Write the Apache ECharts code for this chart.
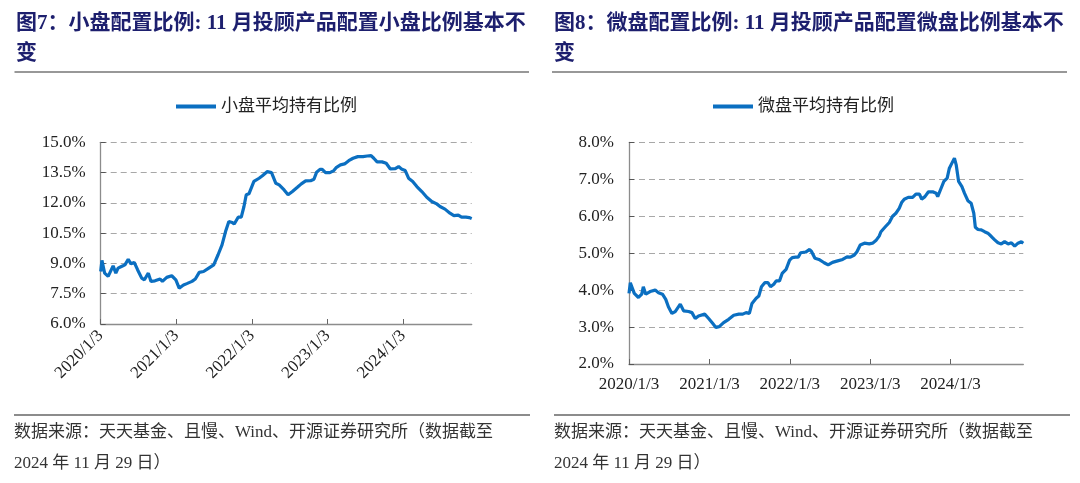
<!DOCTYPE html>
<html>
<head>
<meta charset="utf-8">
<script src="https://cdn.jsdelivr.net/npm/echarts@6/dist/echarts.min.js"></script>
<style>
html,body{margin:0;padding:0;background:#fff;}
#main{width:1080px;height:483px;}
</style>
</head>
<body>
<div id="main"></div>
<script>
// ---- Data: 小盘平均持有比例 (%) ----
var smallDates = ['2020-01-03','2020-01-09','2020-01-22','2020-02-08','2020-03-03','2020-03-16','2020-03-27','2020-04-12','2020-04-29','2020-05-15','2020-05-28','2020-06-13','2020-06-29','2020-07-19','2020-08-01','2020-08-20','2020-09-02','2020-09-21','2020-10-16','2020-10-27','2020-11-17','2020-12-11','2020-12-31','2021-01-16','2021-02-06','2021-02-22','2021-03-19','2021-04-04','2021-04-23','2021-05-14','2021-06-08','2021-07-02','2021-07-23','2021-08-11','2021-08-28','2021-09-13','2021-09-29','2021-10-09','2021-10-28','2021-11-12','2021-11-25','2021-12-06','2021-12-19','2022-01-12','2022-02-06','2022-02-22','2022-03-18','2022-04-07','2022-04-28','2022-05-14','2022-06-07','2022-06-26','2022-07-17','2022-08-10','2022-08-29','2022-09-19','2022-10-13','2022-10-29','2022-11-11','2022-11-27','2022-12-08','2022-12-24','2023-01-14','2023-02-02','2023-02-15','2023-03-06','2023-03-26','2023-04-15','2023-05-06','2023-05-29','2023-06-23','2023-07-13','2023-08-01','2023-08-14','2023-08-30','2023-09-23','2023-10-13','2023-11-02','2023-11-26','2023-12-12','2023-12-28','2024-01-13','2024-01-29','2024-02-18','2024-03-09','2024-04-02','2024-04-26','2024-05-20','2024-06-13','2024-06-29','2024-07-23','2024-08-16','2024-09-04','2024-09-25','2024-10-11','2024-11-01','2024-11-17','2024-11-29'];
var smallValues = [8.6,9.15,8.52,8.36,8.88,8.52,8.77,8.85,8.93,9.21,8.98,9.05,8.69,8.27,8.19,8.52,8.11,8.14,8.23,8.11,8.31,8.39,8.19,7.78,7.93,8.0,8.11,8.23,8.56,8.6,8.77,8.93,9.43,9.92,10.58,11.08,11.03,10.95,11.29,11.29,11.82,12.4,12.45,13.06,13.22,13.34,13.55,13.5,12.97,12.89,12.64,12.4,12.56,12.77,12.94,13.09,13.1,13.17,13.52,13.66,13.66,13.5,13.5,13.6,13.76,13.88,13.93,14.09,14.21,14.29,14.29,14.32,14.34,14.21,14.03,14.03,13.96,13.68,13.7,13.8,13.66,13.6,13.22,13.06,12.81,12.56,12.28,12.07,11.95,11.82,11.69,11.49,11.37,11.39,11.29,11.29,11.27,11.22];

// ---- Data: 微盘平均持有比例 (%) ----
var microDates = ['2020-01-03','2020-01-09','2020-01-18','2020-01-27','2020-02-15','2020-03-01','2020-03-08','2020-03-19','2020-04-08','2020-05-01','2020-05-16','2020-06-03','2020-06-18','2020-06-30','2020-07-16','2020-07-31','2020-08-23','2020-09-07','2020-09-30','2020-10-15','2020-10-30','2020-11-14','2020-12-12','2020-12-30','2021-01-17','2021-02-01','2021-02-16','2021-03-08','2021-03-31','2021-04-23','2021-05-16','2021-06-03','2021-06-18','2021-07-03','2021-07-15','2021-08-03','2021-08-15','2021-08-27','2021-09-11','2021-09-26','2021-10-07','2021-10-22','2021-11-02','2021-11-17','2021-11-29','2021-12-17','2022-01-02','2022-01-14','2022-01-29','2022-02-10','2022-02-21','2022-03-16','2022-04-03','2022-04-12','2022-04-27','2022-05-15','2022-05-24','2022-06-08','2022-06-26','2022-07-16','2022-08-08','2022-08-31','2022-09-20','2022-10-05','2022-10-23','2022-11-04','2022-11-19','2022-12-08','2022-12-30','2023-01-14','2023-01-29','2023-02-13','2023-02-21','2023-03-11','2023-03-31','2023-04-15','2023-04-30','2023-05-15','2023-05-26','2023-06-07','2023-06-25','2023-07-15','2023-07-30','2023-08-15','2023-08-25','2023-09-09','2023-09-25','2023-10-14','2023-10-30','2023-11-06','2023-11-21','2023-12-04','2023-12-19','2023-12-29','2024-01-09','2024-01-21','2024-01-29','2024-02-09','2024-02-24','2024-03-07','2024-03-22','2024-04-06','2024-04-18','2024-04-25','2024-05-07','2024-05-22','2024-06-06','2024-06-21','2024-07-07','2024-07-22','2024-08-06','2024-08-21','2024-09-05','2024-09-21','2024-10-06','2024-10-21','2024-11-05','2024-11-20','2024-11-29'];
var microValues = [3.91,4.2,4.18,3.91,3.8,3.89,4.09,3.89,3.96,4.0,3.93,3.89,3.75,3.55,3.37,3.42,3.62,3.44,3.42,3.39,3.23,3.3,3.35,3.23,3.1,2.99,3.01,3.12,3.21,3.32,3.35,3.35,3.39,3.37,3.64,3.78,3.84,4.09,4.2,4.2,4.09,4.16,4.25,4.25,4.45,4.56,4.81,4.88,4.89,4.89,5.01,5.03,5.1,5.04,4.86,4.83,4.81,4.74,4.68,4.75,4.79,4.83,4.9,4.89,4.95,5.04,5.22,5.27,5.25,5.27,5.34,5.46,5.58,5.7,5.83,6.0,6.08,6.21,6.37,6.46,6.51,6.51,6.6,6.6,6.46,6.53,6.66,6.66,6.62,6.53,6.75,6.94,7.03,7.3,7.43,7.57,7.39,6.94,6.8,6.62,6.42,6.35,6.08,5.7,5.64,5.63,5.58,5.54,5.45,5.36,5.28,5.25,5.31,5.25,5.28,5.19,5.27,5.31,5.27];

// ---- Axis tick labels ----
var smallYTicks = { min: 6, max: 15, interval: 1.5 };
var microYTicks = { min: 2, max: 8, interval: 1 };
var xTickLabels = ['2020/1/3','2021/1/3','2022/1/3','2023/1/3','2024/1/3'];
var startDate = '2020-01-03';
var endDate = '2024-11-29';

// ---- Build calendar-day category axis ----
function keyOf(s) {
  var p = s.split('-');
  return (+p[0]) + '/' + (+p[1]) + '/' + (+p[2]);
}
function toUTC(s) { var p = s.split('-'); return Date.UTC(+p[0], +p[1]-1, +p[2]); }
var days = [];
var idx = {};
for (var t = toUTC(startDate); t <= toUTC(endDate); t += 86400000) {
  var d = new Date(t);
  var k = d.getUTCFullYear() + '/' + (d.getUTCMonth()+1) + '/' + d.getUTCDate();
  idx[k] = days.length;
  days.push(k);
}
function build(dates, vals) {
  return dates.map(function (s, i) { return [idx[keyOf(s)], vals[i]]; });
}
function isTick(i, v) { return xTickLabels.indexOf(v) >= 0; }

var serif = '"Liberation Serif","Times New Roman","Noto Sans CJK SC",serif';
var cjk = '"Liberation Serif","Noto Sans CJK SC",sans-serif';
var lineBlue = '#0b6fc1';
var axisGray = '#8c8c8c';
var gridGray = '#a8a8a8';

function xAxisOpt(gridIndex, rotate, margin) {
  return {
    type: 'category', gridIndex: gridIndex, data: days, boundaryGap: false,
    axisLine: { lineStyle: { color: axisGray, width: 1.3 } },
    axisTick: { interval: isTick, inside: true, length: 5, lineStyle: { color: '#666' } },
    axisLabel: { interval: isTick, rotate: rotate, margin: margin, color: '#222',
      fontFamily: serif, fontSize: 17 },
    splitLine: { show: false }
  };
}
function yAxisOpt(gridIndex, t) {
  return {
    type: 'value', gridIndex: gridIndex, min: t.min, max: t.max, interval: t.interval,
    axisLine: { show: true, lineStyle: { color: axisGray, width: 1.3 } },
    axisTick: { show: true, inside: true, length: 5, lineStyle: { color: '#555' } },
    axisLabel: { margin: 15, color: '#222', fontFamily: serif, fontSize: 17,
      formatter: function (v) { return v.toFixed(1) + '%'; } },
    splitLine: { show: true, lineStyle: { color: gridGray, type: [6, 4], width: 1 } }
  };
}

var titleStyle = { fontSize: 21, fontWeight: 'bold', color: '#1d1f6e', fontFamily: cjk, lineHeight: 30 };
var footStyle = { fontSize: 17, fontWeight: 'normal', color: '#333', fontFamily: cjk, lineHeight: 31 };
var legendText = { fontSize: 17, color: '#222', fontFamily: cjk };

var chart = echarts.init(document.getElementById('main'), null, { renderer: 'canvas' });
chart.setOption({
  backgroundColor: '#fff',
  animation: false,
  title: [
    { text: '图7：小盘配置比例: 11 月投顾产品配置小盘比例基本不\n变', left: 16, top: 9, padding: 0, textStyle: titleStyle },
    { text: '图8：微盘配置比例: 11 月投顾产品配置微盘比例基本不\n变', left: 554, top: 9, padding: 0, textStyle: titleStyle },
    { text: '数据来源：天天基金、且慢、Wind、开源证券研究所（数据截至\n2024 年 11 月 29 日）', left: 14, top: 417, padding: 0, textStyle: footStyle },
    { text: '数据来源：天天基金、且慢、Wind、开源证券研究所（数据截至\n2024 年 11 月 29 日）', left: 554, top: 417, padding: 0, textStyle: footStyle }
  ],
  legend: [
    { data: ['小盘平均持有比例'], left: 176, top: 98, padding: 0, icon: 'rect', itemWidth: 40, itemHeight: 4, itemGap: 5,
      textStyle: legendText },
    { data: ['微盘平均持有比例'], left: 713, top: 98, padding: 0, icon: 'rect', itemWidth: 40, itemHeight: 4, itemGap: 5,
      textStyle: legendText }
  ],
  graphic: [
    { type: 'line', shape: { x1: 14.5, y1: 72, x2: 529, y2: 72 }, style: { stroke: '#333', lineWidth: 1.2 } },
    { type: 'line', shape: { x1: 552, y1: 72, x2: 1067, y2: 72 }, style: { stroke: '#333', lineWidth: 1.2 } },
    { type: 'line', shape: { x1: 14, y1: 415, x2: 530, y2: 415 }, style: { stroke: '#8c8c8c', lineWidth: 2 } },
    { type: 'line', shape: { x1: 554, y1: 415, x2: 1070, y2: 415 }, style: { stroke: '#8c8c8c', lineWidth: 2 } }
  ],
  grid: [
    { left: 100.7, top: 142.3, width: 371, height: 181.7 },
    { left: 629, top: 142.3, width: 394.3, height: 221.7 }
  ],
  xAxis: [ xAxisOpt(0, 45, 9), xAxisOpt(1, 0, 12) ],
  yAxis: [ yAxisOpt(0, smallYTicks), yAxisOpt(1, microYTicks) ],
  series: [
    { name: '小盘平均持有比例', type: 'line', xAxisIndex: 0, yAxisIndex: 0, showSymbol: false, symbol: 'none',
      data: build(smallDates, smallValues), lineStyle: { color: lineBlue, width: 3.2 }, itemStyle: { color: lineBlue } },
    { name: '微盘平均持有比例', type: 'line', xAxisIndex: 1, yAxisIndex: 1, showSymbol: false, symbol: 'none',
      data: build(microDates, microValues), lineStyle: { color: lineBlue, width: 3.2 }, itemStyle: { color: lineBlue } }
  ]
});
</script>
</body>
</html>
